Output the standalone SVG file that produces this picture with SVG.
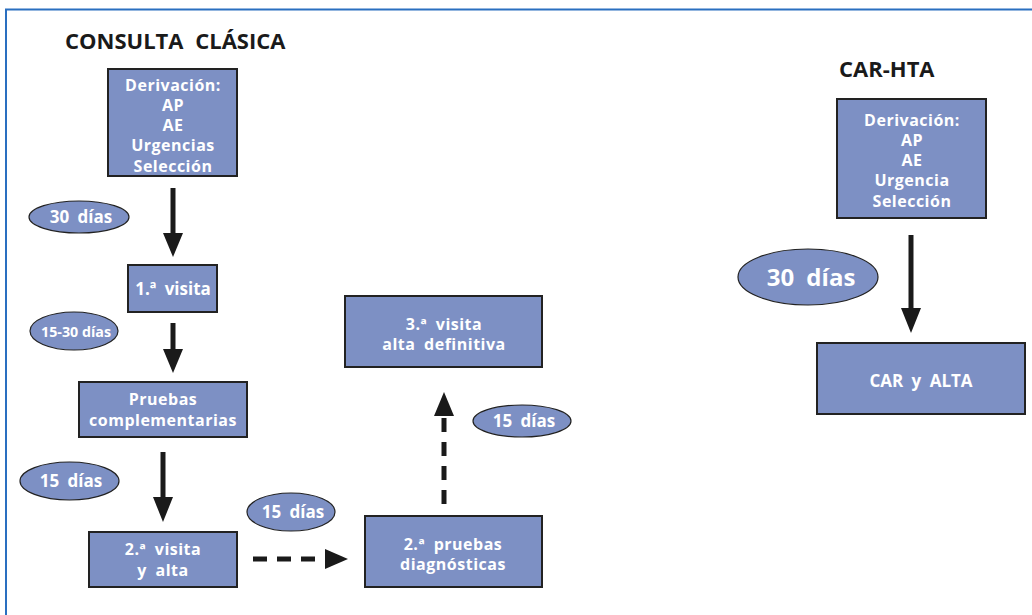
<svg xmlns="http://www.w3.org/2000/svg" width="1032" height="615" viewBox="0 0 1032 615">
<defs>
<style>
.box{fill:#7d90c4;stroke:#222;stroke-width:2}
.ell{fill:#7d90c4;stroke:#222;stroke-width:1.2}
.t{font-family:"Open Sans","Liberation Sans",sans-serif;font-weight:bold;fill:#fff;font-size:17px;word-spacing:4px;text-anchor:middle}
.m{font-size:16px;letter-spacing:0.5px}
.title{font-family:"Open Sans","Liberation Sans",sans-serif;font-weight:bold;fill:#1a1a1a;font-size:22px;word-spacing:6px}
.solid{stroke:#1a1a1a;stroke-width:5;fill:none}
.dash{stroke:#1a1a1a;stroke-width:5;fill:none;stroke-dasharray:14,10}
.head{fill:#1a1a1a}
</style>
</defs>
<rect width="1032" height="615" fill="#fff"/>
<path d="M6,620 V9.5 H1040" fill="none" stroke="#2a6fc0" stroke-width="2"/>
<text class="title" x="65" y="49">CONSULTA CLÁSICA</text>
<text class="title" x="839" y="77">CAR-HTA</text>

<g id="connectors">
<line class="solid" x1="173" y1="188" x2="173" y2="236"/>
<polygon class="head" points="163,233 183,233 173,257"/>
<line class="solid" x1="173" y1="323" x2="173" y2="352"/>
<polygon class="head" points="163,349 183,349 173,373"/>
<line class="solid" x1="163" y1="452" x2="163" y2="500"/>
<polygon class="head" points="153,497 173,497 163,522"/>
<line class="dash" x1="253" y1="559" x2="326" y2="559"/>
<polygon class="head" points="325,549 325,569 348,559"/>
<line class="dash" x1="444" y1="504" x2="444" y2="413"/>
<polygon class="head" points="434,416 454,416 444,392"/>
<line class="solid" x1="911" y1="235" x2="911" y2="311"/>
<polygon class="head" points="901,308 921,308 911,333"/>
</g>

<g id="n-deriv1">
<rect class="box" x="108" y="69" width="129" height="107"/>
<text class="t m" x="173" y="91">Derivación:</text>
<text class="t m" x="173" y="111">AP</text>
<text class="t m" x="173" y="131">AE</text>
<text class="t m" x="173" y="151">Urgencias</text>
<text class="t m" x="173" y="172">Selección</text>
</g>
<g id="e-30a">
<ellipse class="ell" cx="79" cy="217" rx="50" ry="16"/>
<text class="t" x="81" y="223">30 días</text>
</g>
<g id="n-visita1">
<rect class="box" x="128" y="265" width="89" height="47"/>
<text class="t" x="173" y="295">1.ª visita</text>
</g>
<g id="e-1530">
<ellipse class="ell" cx="74" cy="331" rx="44" ry="19"/>
<text class="t" x="76" y="337" style="font-size:15px;word-spacing:0" textLength="70" lengthAdjust="spacingAndGlyphs">15-30 días</text>
</g>
<g id="n-pruebas">
<rect class="box" x="79" y="382" width="168" height="55"/>
<text class="t m" x="163" y="405">Pruebas</text>
<text class="t m" x="163" y="426">complementarias</text>
</g>
<g id="e-15a">
<ellipse class="ell" cx="69.5" cy="481" rx="49.5" ry="19"/>
<text class="t" x="71" y="487">15 días</text>
</g>
<g id="n-visita2">
<rect class="box" x="89" y="532" width="148" height="55"/>
<text class="t m" x="163" y="555">2.ª visita</text>
<text class="t m" x="163" y="576">y alta</text>
</g>
<g id="e-15b">
<ellipse class="ell" cx="291" cy="512" rx="44" ry="19"/>
<text class="t" x="293" y="518">15 días</text>
</g>
<g id="n-pruebas2">
<rect class="box" x="365" y="516" width="177" height="71"/>
<text class="t m" x="453" y="550">2.ª pruebas</text>
<text class="t m" x="453" y="570">diagnósticas</text>
</g>
<g id="e-15c">
<ellipse class="ell" cx="522" cy="421" rx="49" ry="16"/>
<text class="t" x="524" y="427">15 días</text>
</g>
<g id="n-visita3">
<rect class="box" x="345" y="296" width="197" height="71"/>
<text class="t m" x="444" y="330">3.ª visita</text>
<text class="t m" x="444" y="350">alta definitiva</text>
</g>

<g id="n-deriv2">
<rect class="box" x="837" y="99" width="149" height="119"/>
<text class="t m" x="912" y="126">Derivación:</text>
<text class="t m" x="912" y="146">AP</text>
<text class="t m" x="912" y="166">AE</text>
<text class="t m" x="912" y="186">Urgencia</text>
<text class="t m" x="912" y="207">Selección</text>
</g>
<g id="e-30b">
<ellipse class="ell" cx="808" cy="277" rx="70" ry="28"/>
<text class="t" x="811" y="286" style="font-size:24px;word-spacing:6px">30 días</text>
</g>
<g id="n-car">
<rect class="box" x="817" y="343" width="208" height="71"/>
<text class="t" x="921" y="387">CAR y ALTA</text>
</g>
</svg>
